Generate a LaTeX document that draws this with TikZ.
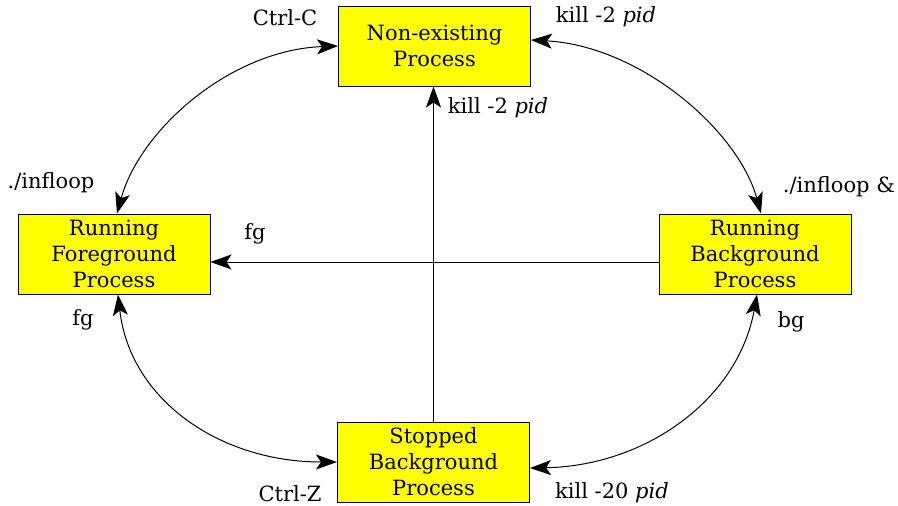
\documentclass[tikz,border=0pt]{standalone}
\usepackage{fontspec}
\setmainfont{DejaVu Serif}
\usetikzlibrary{arrows.meta}
\definecolor{stateyellow}{RGB}{255,255,0}
\begin{document}
\begin{tikzpicture}[x=1pt,y=-1pt,
  state/.style={draw=black, line width=1pt, fill=stateyellow, minimum width=192pt,
    minimum height=80pt, inner sep=0pt, align=center,
    font=\fontsize{21}{26}\selectfont},
  lbl/.style={font=\fontsize{21}{24}\selectfont, inner sep=0pt},
  conn/.style={line width=1pt, -{Stealth[length=21pt,width=15pt,inset=5pt]}},
  dconn/.style={line width=1pt, {Stealth[length=21pt,width=15pt,inset=5pt]}-{Stealth[length=21pt,width=15pt,inset=5pt]}}]
\useasboundingbox (0,0) rectangle (898,506);

% process states
\node[state] (ne) at (434.5,46) {Non-existing\\Process};
\node[state] (rf) at (114,254) {Running\\Foreground\\Process};
\node[state] (rb) at (755,254) {Running\\Background\\Process};
\node[state] (sb) at (433.5,462) {Stopped\\Background\\Process};

% transitions
\draw[dconn] (ne.west) .. controls (230,50) and (140,130) .. ([xshift=3pt]rf.north);
\draw[dconn] ([yshift=6pt]ne.east) .. controls (640,46) and (738,130) .. ([xshift=6pt]rb.north);
\draw[dconn] ([xshift=4pt]rf.south) .. controls (130,400) and (220,462) .. (sb.west);
\draw[dconn] ([xshift=2pt]rb.south) .. controls (738,400) and (645,466) .. ([yshift=-6pt]sb.east);
\draw[conn] (sb.north) -- (sb.north |- ne.south);
\coordinate (bgout) at ([yshift=-8pt]rb.west);
\draw[conn] (bgout) -- (rf.east |- bgout);

% labels
\node[lbl] (l1) at (285,18) {Ctrl-C};
\node[lbl] (l2) at (606,17) {kill -2 \textit{pid}};
\node[lbl] (l3) at (498,108) {kill -2 \textit{pid}};
\node[lbl] (l4) at (51,183) {./infloop};
\node[lbl] (l5) at (839,187) {./infloop \&};
\node[lbl] (l6) at (255,234) {fg};
\node[lbl] (l7) at (83,320) {fg};
\node[lbl] (l8) at (791,322) {bg};
\node[lbl] (l9) at (290,494) {Ctrl-Z};
\node[lbl] (l10) at (612,493) {kill -20 \textit{pid}};
\end{tikzpicture}
\end{document}
